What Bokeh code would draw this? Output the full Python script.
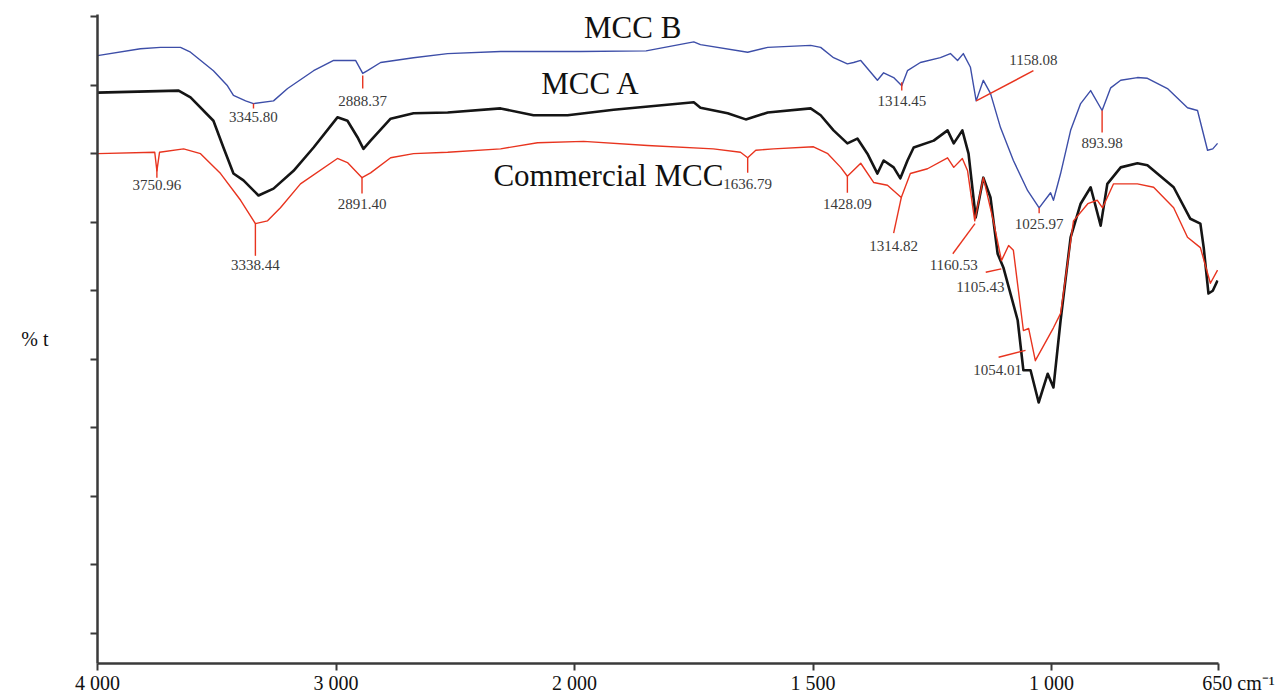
import numpy as np
from bokeh.plotting import figure
from bokeh.models import ColumnDataSource, FixedTicker, CustomJSTransform, Range1d
from bokeh.transform import transform
from bokeh.core.properties import value
from bokeh.embed import file_html
from bokeh.resources import INLINE

# ---------------- data (wavenumber cm-1, %T) ----------------
mccb_wn = [4000, 3820, 3736, 3652, 3610, 3514, 3455, 3430, 3379, 3346, 3262, 3203, 3094, 3010, 2918, 2888,
           2868, 2813, 2675, 2532, 2310, 2142, 1987, 1850, 1750, 1736, 1637, 1595, 1505, 1484, 1457, 1428,
           1415, 1400, 1365, 1352, 1331, 1314, 1302, 1275, 1233, 1212, 1197, 1185, 1170, 1158, 1143, 1128,
           1107, 1080, 1050, 1026, 1002, 996, 981, 960, 939, 918, 894, 876, 855, 820, 799, 757, 715, 694,
           673, 662, 652]
mccb_t = [94.3, 95.3, 95.5, 95.5, 94.8, 92.1, 89.9, 88.5, 87.7, 87.3, 87.7, 89.5, 92.1, 93.6, 93.6, 91.7,
          92.1, 93.3, 94.0, 94.6, 94.9, 94.9, 94.9, 95.0, 96.3, 95.9, 94.8, 95.5, 95.8, 95.5, 94.0, 93.1,
          93.3, 93.6, 90.7, 91.8, 91.1, 89.9, 92.1, 93.3, 94.0, 94.6, 93.6, 94.6, 92.6, 87.7, 90.7, 88.8,
          83.8, 79.0, 74.6, 72.1, 74.3, 73.2, 77.1, 83.4, 87.3, 89.2, 86.3, 89.6, 90.7, 91.1, 91.0, 89.5,
          86.7, 86.3, 80.5, 80.7, 81.5]

mcca_wn = [4000, 3660, 3610, 3514, 3472, 3430, 3388, 3325, 3262, 3178, 3094, 2994, 2952, 2910, 2885, 2855,
           2771, 2675, 2532, 2310, 2172, 2029, 1918, 1750, 1736, 1679, 1641, 1595, 1505, 1484, 1457, 1428,
           1407, 1386, 1365, 1352, 1331, 1317, 1302, 1289, 1247, 1218, 1205, 1187, 1174, 1159, 1143, 1128,
           1113, 1101, 1071, 1059, 1044, 1027, 1008, 996, 981, 960, 939, 918, 897, 883, 855, 820, 799, 744,
           709, 688, 681, 671, 662, 652]
mcca_t = [88.9, 89.2, 88.2, 84.8, 80.9, 77.1, 76.1, 73.9, 74.9, 77.5, 80.9, 85.3, 84.8, 82.4, 80.7, 81.9,
          85.1, 85.9, 86.0, 86.6, 85.6, 85.6, 86.4, 87.5, 86.7, 85.9, 85.0, 86.0, 86.6, 85.6, 83.4, 81.5,
          82.2, 80.0, 77.1, 79.0, 78.0, 76.4, 79.0, 80.9, 81.9, 83.4, 81.5, 83.4, 80.0, 70.7, 76.5, 73.6,
          65.4, 63.4, 55.7, 48.4, 48.4, 43.7, 47.9, 45.9, 55.7, 67.8, 72.7, 75.1, 69.5, 75.6, 78.0, 78.6,
          78.3, 75.1, 70.5, 69.8, 66.3, 59.6, 60.0, 61.5]

comm_wn = [4000, 3760, 3751, 3740, 3639, 3568, 3484, 3400, 3338, 3287, 3233, 3149, 2994, 2952, 2891, 2855,
           2771, 2675, 2532, 2310, 2155, 1981, 1847, 1709, 1652, 1637, 1620, 1583, 1499, 1469, 1442, 1428,
           1400, 1373, 1344, 1315, 1296, 1260, 1218, 1205, 1187, 1176, 1161, 1143, 1122, 1105, 1090, 1080,
           1059, 1048, 1034, 996, 981, 954, 924, 904, 893, 870, 820, 786, 744, 715, 688, 667, 652]
comm_t = [80.0, 80.2, 77.5, 80.2, 80.7, 80.0, 77.1, 73.2, 69.8, 70.2, 72.1, 75.6, 79.3, 78.7, 76.5, 77.2,
          79.4, 80.0, 80.2, 80.7, 81.6, 81.8, 81.2, 80.7, 80.2, 79.4, 80.5, 80.7, 81.0, 80.0, 78.0, 76.7,
          78.6, 75.8, 75.4, 73.6, 77.1, 77.8, 79.4, 78.0, 79.3, 77.5, 70.2, 76.5, 70.2, 64.4, 66.6, 65.9,
          54.2, 54.5, 49.8, 54.6, 56.7, 70.2, 72.7, 73.2, 72.1, 75.6, 75.6, 75.1, 72.1, 67.8, 66.3, 61.1,
          63.0]

# peak annotations: label, marker start (wn, T), marker end (wn, T), label anchor (wn, T)
peak_labels = ["3750.96", "3345.80", "2888.37", "3338.44", "2891.40", "1636.79", "1428.09", "1314.45",
               "1314.82", "1158.08", "1025.97", "893.98", "1160.53", "1105.43", "1054.01"]
peak_x0 = [3751, 3346, 2888, 3338, 2891, 1637, 1428, 1314, 1315, 1158, 1026, 894, 1160.5, 1105.4, 1054.5]
peak_y0 = [77.8, 87.3, 91.4, 69.8, 76.5, 79.4, 76.7, 90.4, 73.6, 87.7, 72.1, 86.3, 69.8, 63.2, 51.3]
peak_x1 = [3751, 3346, 2888, 3338, 2891, 1637, 1428, 1314, 1331, 1038, 1026, 894, 1207, 1138, 1111]
peak_y1 = [76.5, 86.6, 89.5, 65.1, 74.2, 77.2, 74.3, 89.2, 68.4, 92.1, 71.3, 83.1, 65.4, 62.7, 50.3]
label_x = [3751, 3346, 2888, 3338, 2891, 1637, 1428, 1314, 1331, 1038, 1026, 894, 1205, 1149, 1113]
label_y = [75.5, 85.3, 87.7, 63.7, 72.7, 75.6, 72.7, 87.7, 66.6, 93.7, 69.8, 81.6, 63.7, 60.5, 48.4]

series_names = ["MCC B", "MCC A", "Commercial MCC"]
name_x = [1878, 1966, 2340]
name_y = [98.4, 90.2, 76.8]

tick_wn = [4000, 3000, 2000, 1500, 1000, 650]
NB = "\u00a0"
tick_text = ["4 000", "3 000", "2 000", "1 500", "1 000", NB * 8 + "650 cm\u207b\u00b9"]

# split wavenumber axis: 4000-2000 compressed, 2000-650 expanded x2
def split(w):
    w = np.asarray(w, dtype=float)
    return np.where(w >= 2000, 4000 - w, 2000 + 2 * (2000 - w))

tr = CustomJSTransform(v_func="""
const out = new Float64Array(xs.length);
for (let i = 0; i < xs.length; i++) {
  const w = xs[i];
  out[i] = w >= 2000 ? 4000 - w : 2000 + 2 * (2000 - w);
}
return out;
""")

SERIF = "Liberation Serif"

p = figure(width=1285, height=696, output_backend="svg", toolbar_location=None,
           x_range=Range1d(0, 4700), y_range=Range1d(5.63, 100.3),
           min_border_left=97, min_border_right=67, min_border_top=14, min_border_bottom=33)
p.outline_line_color = None
p.grid.visible = False
p.background_fill_color = "white"
p.border_fill_color = "white"

src_a = ColumnDataSource(dict(wn=mcca_wn, t=mcca_t))
src_c = ColumnDataSource(dict(wn=comm_wn, t=comm_t))
src_b = ColumnDataSource(dict(wn=mccb_wn, t=mccb_t))

p.line(x=transform("wn", tr), y="t", source=src_a, line_color="#151515", line_width=2.6, line_join="round")
p.line(x=transform("wn", tr), y="t", source=src_c, line_color="#e8341f", line_width=1.4, line_join="round")
p.line(x=transform("wn", tr), y="t", source=src_b, line_color="#3d4ea8", line_width=1.4, line_join="round")

src_p = ColumnDataSource(dict(x0=peak_x0, y0=peak_y0, x1=peak_x1, y1=peak_y1,
                              lx=label_x, ly=label_y, txt=peak_labels))
p.segment(x0=transform("x0", tr), y0="y0", x1=transform("x1", tr), y1="y1", source=src_p,
          line_color="#e8341f", line_width=1.4)
p.text(x=transform("lx", tr), y="ly", text="txt", source=src_p, text_font=value(SERIF),
       text_font_size=value("15px"), text_color="#3a3a3a", text_align="center", text_baseline="middle")

src_n = ColumnDataSource(dict(x=name_x, y=name_y, txt=series_names,
                              align=["center", "center", "left"]))
p.text(x=transform("x", tr), y="y", text="txt", source=src_n, text_font=value(SERIF),
       text_font_size=value("31px"), text_color="#111111", text_align="align", text_baseline="middle")

# axes
yticks = [10, 20, 30, 40, 50, 60, 70, 80, 90, 100]
p.xaxis.ticker = FixedTicker(ticks=[float(v) for v in split(tick_wn)])
p.xaxis.major_label_overrides = {float(v): s for v, s in zip(split(tick_wn), tick_text)}
p.yaxis.ticker = FixedTicker(ticks=yticks)
p.yaxis.major_label_overrides = {v: "" for v in yticks}
p.xaxis.minor_tick_line_color = None
p.yaxis.minor_tick_line_color = None
for ax in (p.xaxis, p.yaxis):
    ax.axis_line_color = "#3a3a3a"
    ax.axis_line_width = 2.5
    ax.major_tick_line_color = "#3a3a3a"
    ax.major_tick_line_width = 2
    ax.major_tick_in = 0
    ax.major_tick_out = 7
p.xaxis.major_label_text_font = SERIF
p.xaxis.major_label_text_font_size = "20px"
p.xaxis.major_label_text_color = "#111111"
p.xaxis.major_label_standoff = 1

p.yaxis.axis_label = "% t"
p.yaxis.axis_label_orientation = "horizontal"
p.yaxis.axis_label_text_font = SERIF
p.yaxis.axis_label_text_font_style = "normal"
p.yaxis.axis_label_text_font_size = "20px"
p.yaxis.axis_label_text_color = "#111111"
p.yaxis.axis_label_standoff = 42

open("out.html", "w").write(file_html(p, INLINE))
